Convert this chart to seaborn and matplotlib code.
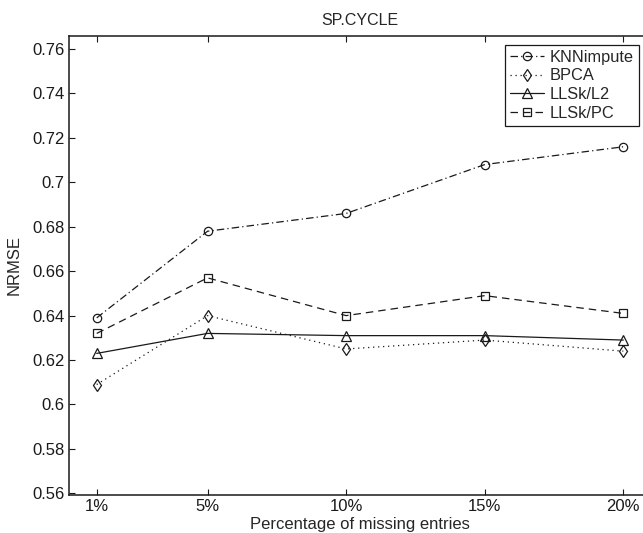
import matplotlib
matplotlib.use("Agg")
import matplotlib.pyplot as plt
import seaborn as sns
import numpy as np

# ---- data ----
pct = [1, 5, 10, 15, 20]
pct_labels = ["1%", "5%", "10%", "15%", "20%"]
knnimpute = [0.639, 0.678, 0.686, 0.708, 0.716]
bpca = [0.609, 0.640, 0.625, 0.629, 0.624]
llsk_l2 = [0.623, 0.632, 0.631, 0.631, 0.629]
llsk_pc = [0.632, 0.657, 0.640, 0.649, 0.641]
yticks = [0.56, 0.58, 0.60, 0.62, 0.64, 0.66, 0.68, 0.70, 0.72, 0.74, 0.76]
ytick_labels = ["0.56", "0.58", "0.6", "0.62", "0.64", "0.66", "0.68", "0.7", "0.72", "0.74", "0.76"]

sns.set_theme(style="white")
plt.rcParams['font.family'] = ['Liberation Sans', 'DejaVu Sans']

fig = plt.figure(figsize=(6.43, 5.33), dpi=100)
W, H = 643, 533
left_px, right_px = 69.0, 651.0
top_px, bot_px = 35.7, 494.7
ax = fig.add_axes([left_px / W, 1 - bot_px / H, (right_px - left_px) / W, (bot_px - top_px) / H])

series = [
    ("KNNimpute", knnimpute, "o", (0, (6, 2.5, 1, 2.5)), 6.0),
    ("BPCA", bpca, "d", (0, (1, 3)), 6.5),
    ("LLSk/L2", llsk_l2, "^", "-", 7.0),
    ("LLSk/PC", llsk_pc, "s", (0, (6, 4)), 5.5),
]
for name, vals, mk, ls, ms in series:
    sns.lineplot(x=pct, y=vals, ax=ax, color="k", marker=mk, markersize=ms,
                 markerfacecolor="none", markeredgecolor="k", markeredgewidth=0.9,
                 linestyle=ls, linewidth=0.9, label=name)

ax.set_xlim(0, 21)
ax.set_ylim(0.5594, 0.766)
ax.set_xticks(pct)
ax.set_xticklabels(pct_labels)
ax.set_yticks(yticks)
ax.set_yticklabels(ytick_labels)
ax.tick_params(direction="in", length=4.5, width=0.8, labelsize=12, colors="k",
               top=True, right=True, bottom=True, left=True, pad=3)
for s in ax.spines.values():
    s.set_color("k")
    s.set_linewidth(1.1)

ax.set_title("SP.CYCLE", fontsize=11.5, pad=8)
ax.set_xlabel("Percentage of missing entries", fontsize=12, labelpad=2)
ax.set_ylabel("NRMSE", fontsize=12, labelpad=8)

leg = ax.legend(loc="upper right", bbox_to_anchor=(0.979, 0.980), borderaxespad=0,
                fancybox=False, edgecolor="k", framealpha=1, fontsize=11.8,
                handlelength=2.1, handletextpad=0.35, labelspacing=0.22,
                borderpad=0.3)
leg.get_frame().set_linewidth(0.9)

fig.savefig("out.png", dpi=100)
